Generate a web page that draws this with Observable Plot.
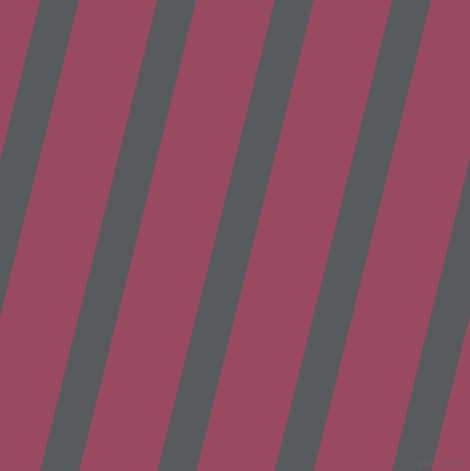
<!DOCTYPE html>
<html>
<head>
<meta charset="utf-8">
<script src="https://cdn.jsdelivr.net/npm/d3@7"></script>
<script src="https://cdn.jsdelivr.net/npm/@observablehq/plot@0.6"></script>
<style>
  html, body { margin: 0; padding: 0; background: #994a61; overflow: hidden; }
  svg { display: block; }
</style>
</head>
<body>
<div id="chart"></div>
<script>
// Stripe positions (left edge of each grey stripe at the top edge), in px units
const stripeStarts = [-77.3, 40, 157.3, 274.7, 392, 509.3];
const stripeWidth = [39];          // horizontal width of each grey stripe
const stripeShift = [117.3];       // horizontal drift from top to bottom
const yExtent = [0, 471];
const xExtent = [0, 470];
const colors = { background: "#994a61", stripe: "#585b5e" };
const watermark = ["pkils.com"];

const rows = [];
stripeStarts.forEach((s, i) => {
  rows.push({ id: i, y: yExtent[0], x1: s, x2: s + stripeWidth[0] });
  rows.push({ id: i, y: yExtent[1], x1: s - stripeShift[0], x2: s - stripeShift[0] + stripeWidth[0] });
});

const chart = Plot.plot({
  width: 470,
  height: 471,
  margin: 0,
  x: { domain: xExtent, axis: null },
  y: { domain: yExtent, reverse: true, axis: null },
  style: { background: colors.background },
  marks: [
    Plot.frame({ fill: colors.background, stroke: null }),
    Plot.areaX(rows, { y: "y", x1: "x1", x2: "x2", z: "id", fill: colors.stripe, clip: true }),
    Plot.text(watermark, {
      frameAnchor: "bottom-right", dx: -6, dy: -6,
      fontSize: 10, fontFamily: "DejaVu Sans", fill: "#6a6a6e", fillOpacity: 0.6
    })
  ]
});
document.getElementById("chart").appendChild(chart);
</script>
</body>
</html>
